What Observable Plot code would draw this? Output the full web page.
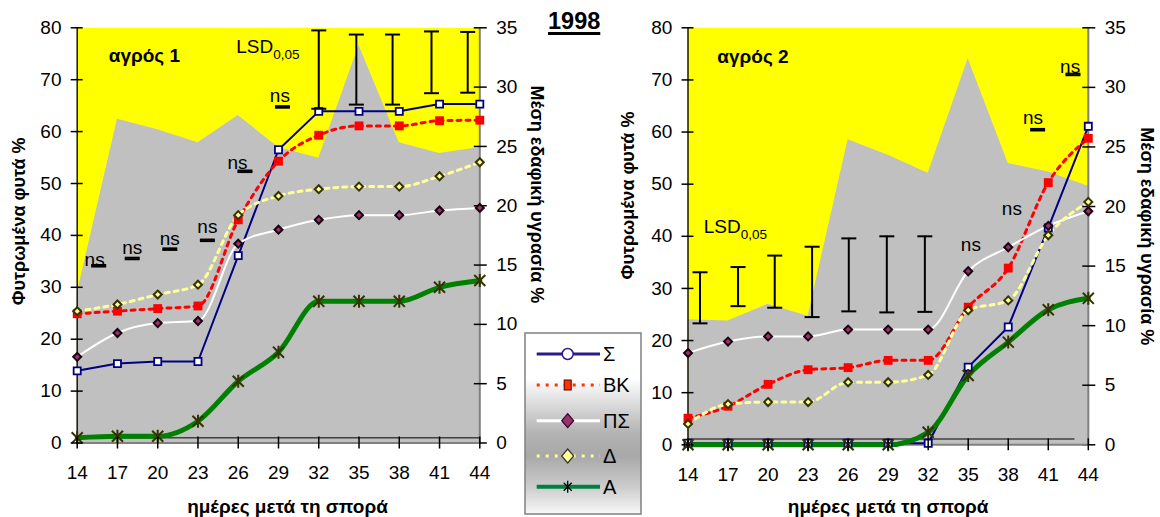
<!DOCTYPE html>
<html>
<head>
<meta charset="utf-8">
<script src="https://cdn.jsdelivr.net/npm/d3@7"></script>
<script src="https://cdn.jsdelivr.net/npm/@observablehq/plot@0.6"></script>
<style>
  html, body { margin: 0; padding: 0; background: #ffffff; }
  #chart { position: relative; width: 1160px; height: 517px; font-family: "Liberation Sans", Arial, Helvetica, sans-serif; }
  #chart svg { position: absolute; left: 0; top: 0; }
  #title { position: absolute; left: 548px; top: 10px; font: bold 23.5px "Liberation Sans", Arial, sans-serif; line-height: 23px; text-decoration: underline; text-decoration-thickness: 2.5px; text-underline-offset: 3px; color: #000; }
</style>
</head>
<body>
<div id="chart"><div id="title">1998</div></div>
<script>
// ---------- data ----------
const days = [14, 17, 20, 23, 26, 29, 32, 35, 38, 41, 44];
const leftTicks = [0, 10, 20, 30, 40, 50, 60, 70, 80];
const rightTicks = [0, 5, 10, 15, 20, 25, 30, 35];
const seriesNames = ["Σ", "ΒΚ", "ΠΣ", "Δ", "Α"];
const fieldLabels = ["αγρός 1", "αγρός 2"];
const xLabel = "ημέρες μετά τη σπορά";
const yLabelLeft = "Φυτρωμένα φυτά %";
const yLabelRight = "Μέση εδαφική υγρασία %";

// αγρός 1 — soil moisture (right axis) and emergence % (left axis)
const moisture1 = [12.6, 27.3, 26.4, 25.3, 27.6, 24.9, 24.0, 33.5, 25.3, 24.4, 24.9];
const sigma1 = [13.9, 15.3, 15.7, 15.7, 36.1, 56.5, 63.9, 63.9, 63.9, 65.3, 65.3];
const bk1 = [24.9, 25.4, 25.9, 26.4, 43.0, 54.3, 59.3, 61.1, 61.1, 62.1, 62.2];
const ps1 = [16.6, 21.2, 23.1, 23.5, 38.4, 41.1, 43.0, 43.9, 43.9, 44.8, 45.3];
const delta1 = [25.4, 26.7, 28.6, 30.5, 43.9, 47.6, 48.9, 49.4, 49.4, 51.4, 54.1];
const alpha1 = [1.0, 1.3, 1.3, 4.2, 11.9, 17.5, 27.3, 27.3, 27.3, 30.0, 31.3];
const lsdX1 = [15.6, 18.1, 20.9, 23.7, 26.5, 29.3, 32.0, 34.8, 37.5, 40.4, 43.1];
const lsdLow1 = [34.0, 35.4, 37.2, 38.9, 52.2, 64.6, 64.4, 65.2, 65.2, 67.4, 67.5];
const lsdHigh1 = [34.3, 35.7, 37.5, 39.2, 52.5, 64.9, 79.5, 78.7, 78.7, 79.3, 79.2];
const nsX1 = [15.3, 18.1, 20.9, 23.7, 25.95, 29.1];
const nsY1 = [34.2, 36.5, 38.1, 40.4, 52.8, 65.7];
const secAxis1 = [15.2, 44, 1.0];

// αγρός 2
const moisture2 = [10.5, 10.4, 11.8, 10.8, 25.6, 24.3, 22.8, 32.4, 23.6, 22.9, 21.7];
const sigma2 = [0.3, 0.3, 0.3, 0.3, 0.3, 0.3, 0.3, 14.9, 22.6, 41.6, 61.1];
const bk2 = [5.1, 7.4, 11.6, 14.4, 14.8, 16.2, 16.2, 26.4, 33.9, 50.3, 58.8];
const ps2 = [17.6, 19.8, 20.8, 20.8, 22.1, 22.1, 22.1, 33.3, 37.9, 42.0, 44.8];
const delta2 = [4.0, 7.8, 8.2, 8.2, 12.0, 12.0, 13.4, 25.8, 27.7, 40.2, 46.6];
const alpha2 = [0, 0, 0, 0, 0, 0, 2.4, 13.3, 19.7, 25.9, 28.1];
const lsdX2 = [14.9, 17.75, 20.5, 23.3, 26.05, 28.9, 31.75, 40.2, 42.85];
const lsdLow2 = [23.3, 26.6, 26.3, 24.5, 25.6, 25.4, 25.5, 60.3, 70.9];
const lsdHigh2 = [33.1, 34.1, 36.3, 38.0, 39.6, 40.0, 40.0, 60.6, 71.2];
const nsX2 = [35.2, 38.27, 39.86, 42.64];
const nsY2 = [37.1, 44.0, 61.6, 71.3];
const secAxis2 = [14, 43.0, 1.1];

// label anchor points (data coordinates)
const fieldLabelX = [16.35, 16.2];
const fieldLabelY = [74.5, 74.4];
const lsdLabelX = [25.85, 15.18];
const lsdLabelY = [76.3, 41.8];

// ---------- drawing ----------
const FONT = '"Liberation Sans", Arial, Helvetica, sans-serif';
const starSymbol = {draw(ctx, size) {
  const r = Math.sqrt(size / Math.PI), d = r * 0.85;
  ctx.moveTo(-d, -d); ctx.lineTo(d, d);
  ctx.moveTo(-d, d); ctx.lineTo(d, -d);
  ctx.moveTo(0, -r); ctx.lineTo(0, r);
}};
const capSymbol = {draw(ctx, size) {
  const r = Math.sqrt(size / Math.PI);
  ctx.moveTo(-r, 0); ctx.lineTo(r, 0);
}};

const chart = document.getElementById("chart");

function drawPanel(p) {
  const W = 1160, H = 517;
  const layout = {
    width: W, height: H,
    marginLeft: p.left, marginRight: W - p.right, marginTop: p.top, marginBottom: H - p.bottom,
    style: {background: "transparent", fontFamily: FONT, fontSize: "19px", color: "#000", overflow: "visible"}
  };
  const moistRows = days.map((d, i) => ({day: d, v: p.moist[i]}));
  const back = Plot.plot({
    ...layout,
    x: {type: "linear", domain: [14, 44], axis: null},
    y: {domain: [0, 35]},
    marks: [
      Plot.frame({fill: "#ffff00", stroke: "none"}),
      Plot.areaY(moistRows, {x: "day", y: "v", fill: "#c0c0c0"}),
      Plot.ruleX([44], {stroke: "#808080", strokeWidth: 2}),
      Plot.axisY({anchor: "right", ticks: rightTicks, tickSize: 13, dx: -6.5, tickPadding: 10, label: null, strokeWidth: 1.5}),
      Plot.text([yLabelRight], {frameAnchor: "right", dx: p.rLabDx, dy: p.rLabDy, rotate: 90, textAnchor: "middle", lineAnchor: "middle", fontWeight: "bold", fontSize: 18})
    ]
  });

  const rows = days.map((d, i) => ({day: d, S: p.S[i], BK: p.BK[i], PS: p.PS[i], D: p.D[i], A: p.A[i]}));
  const lsdRows = p.lsdX.map((x, i) => ({x, lo: p.lsdLo[i], hi: p.lsdHi[i]}));
  const nsRows = p.nsX.map((x, i) => ({x, y: p.nsY[i]}));

  const front = Plot.plot({
    ...layout,
    x: {type: "linear", domain: [14, 44]},
    y: {domain: [0, 80]},
    marks: [
      Plot.ruleY([p.sec], {x1: d => d[0], x2: d => d[1], y: d => d[2], stroke: "#404040", strokeWidth: 1.5}),
      Plot.ruleY([0], {stroke: "#808080", strokeWidth: 2}),
      Plot.ruleX([14], {stroke: "#1a1a00", strokeWidth: 1.5}),
      // lines
      Plot.line(rows, {x: "day", y: "S", stroke: "#000080", strokeWidth: 2}),
      Plot.line(rows, {x: "day", y: "BK", stroke: "#ff0000", strokeWidth: 3, strokeDasharray: "4,5", curve: "monotone-x"}),
      Plot.line(rows, {x: "day", y: "PS", stroke: "#ffffff", strokeWidth: 2, curve: "monotone-x"}),
      Plot.line(rows, {x: "day", y: "D", stroke: "#ffff99", strokeWidth: 3, strokeDasharray: "4,5", curve: "monotone-x"}),
      Plot.line(rows, {x: "day", y: "A", stroke: "#008000", strokeWidth: 5, curve: "monotone-x"}),
      // markers
      Plot.dot(rows, {x: "day", y: "S", symbol: "square", r: 4, fill: "#ffffff", stroke: "#000080", strokeWidth: 1.8}),
      Plot.dot(rows, {x: "day", y: "BK", symbol: "square", r: 5, fill: "#ff0000", stroke: "none"}),
      Plot.dot(rows, {x: "day", y: "PS", symbol: "diamond2", r: 3.6, fill: "#993366", stroke: "#1a0010", strokeWidth: 2}),
      Plot.dot(rows, {x: "day", y: "D", symbol: "diamond2", r: 3.6, fill: "#ffff99", stroke: "#333300", strokeWidth: 2}),
      Plot.dot(rows, {x: "day", y: "A", symbol: starSymbol, r: 6.5, fill: "none", stroke: "#333300", strokeWidth: 2}),
      // LSD bars
      Plot.ruleX(lsdRows, {x: "x", y1: "lo", y2: "hi", stroke: "#000", strokeWidth: 2}),
      Plot.dot(lsdRows, {x: "x", y: "lo", symbol: capSymbol, r: 7.5, fill: "none", stroke: "#000", strokeWidth: 2}),
      Plot.dot(lsdRows, {x: "x", y: "hi", symbol: capSymbol, r: 7.5, fill: "none", stroke: "#000", strokeWidth: 2}),
      // annotations
      Plot.text(nsRows, {x: "x", y: "y", text: () => "ns", lineAnchor: "bottom", fontSize: 19}),
      Plot.text([p.field], {x: () => p.fieldX, y: () => p.fieldY, textAnchor: "start", lineAnchor: "middle", fontWeight: "bold", fontSize: 19}),
      Plot.text(["LSD"], {x: () => p.lsdLX, y: () => p.lsdLY, textAnchor: "start", lineAnchor: "middle", fontSize: 19}),
      Plot.text(["0,05"], {x: () => p.lsdLX, y: () => p.lsdLY, dx: 37, dy: 7.5, textAnchor: "start", lineAnchor: "middle", fontSize: 13.5}),
      // axes
      Plot.axisY({anchor: "left", ticks: leftTicks, tickSize: 12, dx: 6, tickPadding: 9.7, label: null, strokeWidth: 1.5}),
      Plot.axisX({anchor: "bottom", ticks: days, tickSize: 12, dy: -6, tickPadding: 16.5, label: null, strokeWidth: 1.5}),
      Plot.text([yLabelLeft], {frameAnchor: "left", dx: p.lLabDx, dy: p.lLabDy, rotate: -90, textAnchor: "middle", lineAnchor: "middle", fontWeight: "bold", fontSize: 18}),
      Plot.text([xLabel], {frameAnchor: "bottom", dx: p.xLabDx, dy: p.xLabDy, textAnchor: "middle", lineAnchor: "bottom", fontWeight: "bold", fontSize: 19})
    ]
  });
  chart.appendChild(back);
  chart.appendChild(front);
}

drawPanel({
  left: 76.7, right: 479.3, top: 27.3, bottom: 442.5,
  moist: moisture1, S: sigma1, BK: bk1, PS: ps1, D: delta1, A: alpha1,
  lsdX: lsdX1, lsdLo: lsdLow1, lsdHi: lsdHigh1, nsX: nsX1, nsY: nsY1, sec: secAxis1,
  field: fieldLabels[0], fieldX: fieldLabelX[0], fieldY: fieldLabelY[0],
  lsdLX: lsdLabelX[0], lsdLY: lsdLabelY[0],
  lLabDx: -57.5, lLabDy: -14, rLabDx: 57.1, rLabDy: -41, xLabDx: 9, xLabDy: 70
});
drawPanel({
  left: 687.5, right: 1087.8, top: 27.3, bottom: 444.3,
  moist: moisture2, S: sigma2, BK: bk2, PS: ps2, D: delta2, A: alpha2,
  lsdX: lsdX2, lsdLo: lsdLow2, lsdHi: lsdHigh2, nsX: nsX2, nsY: nsY2, sec: secAxis2,
  field: fieldLabels[1], fieldX: fieldLabelX[1], fieldY: fieldLabelY[1],
  lsdLX: lsdLabelX[1], lsdLY: lsdLabelY[1],
  lLabDx: -59.5, lLabDy: -40.8, rLabDx: 58.2, rLabDy: 0, xLabDx: 0, xLabDy: 68.2
});

// ---------- legend ----------
(function legend() {
  const L = {x: 525, y: 333, w: 116, h: 181};
  const svg = d3.create("svg").attr("width", L.w + 2).attr("height", L.h + 2)
    .style("left", (L.x - 1) + "px").style("top", (L.y - 1) + "px")
    .attr("font-family", FONT);
  const grad = svg.append("defs").append("linearGradient").attr("id", "lgGrad")
    .attr("x1", 0).attr("y1", 0).attr("x2", 0).attr("y2", 1);
  [[0, "#ffffff"], [0.25, "#ffffff"], [0.55, "#b4b4b4"], [0.68, "#a8a8a8"], [0.85, "#cccccc"], [1, "#f8f8f8"]]
    .forEach(([o, c]) => grad.append("stop").attr("offset", o).attr("stop-color", c));
  svg.append("rect").attr("x", 1).attr("y", 1).attr("width", L.w).attr("height", L.h)
    .attr("fill", "url(#lgGrad)").attr("stroke", "#808080").attr("stroke-width", 1.5);
  const rowsY = [21, 52, 87.7, 123, 153.7];
  const styles = [
    {stroke: "#2b1b8a", w: 3, dash: null},
    {stroke: "#ff3300", w: 3, dash: "3,6"},
    {stroke: "#ffffff", w: 3, dash: null},
    {stroke: "#ffff99", w: 3, dash: "3,6"},
    {stroke: "#008040", w: 4, dash: null}
  ];
  const x0 = 12.7, x1 = 76, mx = 43.7;
  seriesNames.forEach((name, i) => {
    const y = rowsY[i] + 1, s = styles[i];
    const ln = svg.append("line").attr("x1", x0).attr("x2", x1).attr("y1", y).attr("y2", y)
      .attr("stroke", s.stroke).attr("stroke-width", s.w);
    if (s.dash) ln.attr("stroke-dasharray", s.dash);
    if (i === 0) svg.append("circle").attr("cx", mx).attr("cy", y).attr("r", 5.5).attr("fill", "#fff").attr("stroke", "#2b1b8a").attr("stroke-width", 1.5);
    if (i === 1) svg.append("rect").attr("x", mx - 3.5).attr("y", y - 5).attr("width", 7).attr("height", 10).attr("fill", "#ff3300").attr("stroke", "#550000").attr("stroke-width", 1);
    if (i === 2) svg.append("path").attr("d", `M${mx},${y-7}L${mx+6},${y}L${mx},${y+7}L${mx-6},${y}Z`).attr("fill", "#993366").attr("stroke", "#330033").attr("stroke-width", 1.2);
    if (i === 3) svg.append("path").attr("d", `M${mx},${y-7}L${mx+6},${y}L${mx},${y+7}L${mx-6},${y}Z`).attr("fill", "#ffff99").attr("stroke", "#333333").attr("stroke-width", 1.2);
    if (i === 4) svg.append("path").attr("d", `M${mx-4},${y-4}L${mx+4},${y+4}M${mx-4},${y+4}L${mx+4},${y-4}M${mx},${y-6}L${mx},${y+6}`).attr("stroke", "#000").attr("stroke-width", 1.3).attr("fill", "none");
    svg.append("text").attr("x", 79).attr("y", y).attr("dy", "0.36em").attr("font-size", 20).attr("fill", "#000").text(name);
  });
  chart.appendChild(svg.node());
})();
</script>
</body>
</html>
